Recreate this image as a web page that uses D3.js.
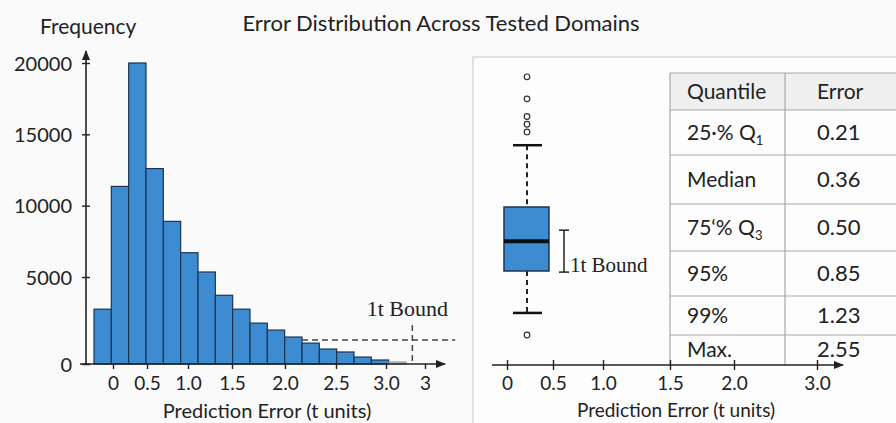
<!DOCTYPE html>
<html><head><meta charset="utf-8">
<style>
body{margin:0;background:#fafafa;}
#chart text{font-family:Lato,'Open Sans',sans-serif;fill:#222;}
#chart .serif{font-family:'Liberation Serif','DejaVu Serif',serif;}
</style>
<script src="https://cdn.jsdelivr.net/npm/d3@7/dist/d3.min.js"></script>
</head><body>
<svg id="chart" width="896" height="423"></svg>
<script>
// histogram data (counts per bin)
var binCounts=[3150,11350,20000,12600,8900,6700,5350,3950,3150,2350,1950,1550,1200,860,690,400,230,115];
var yTicks=[0,5000,10000,15000,20000];
var xTickValues=[0,0.5,1.0,1.5,2.0,2.5,3.0,3.4];
var xTickLabels=['0','0.5','1.0','1.5','2.0','2.5','3.0','3'];
var boundX=3.27, boundCount=1380;

// box plot
var boxQ1=0.21, boxMedian=0.345, boxQ3=0.50, whiskerLow=0.02, whiskerHigh=0.78;
var outliers=[1.09,0.99,0.91,0.875,0.84,-0.08];
var boundRange=[0.205,0.395];

// quantile table
var quantileNames=[['25·% Q','1'],['Median',''],['75‘% Q','3'],['95%',''],['99%',''],['Max.','']];
var quantileErrors=['0.21','0.36','0.50','0.85','1.23','2.55'];
var rightTickValues=[0,0.5,1.0,1.5,2.0,3.0];
var rightTickLabels=['0','0.5','1.0','1.5','2.0','3.0'];

var svg=d3.select('#chart');
var defs=svg.append('defs');
defs.append('marker').attr('id','arr').attr('viewBox','0 0 10 10')
  .attr('refX',9).attr('refY',5).attr('markerWidth',10).attr('markerHeight',10)
  .attr('markerUnits','userSpaceOnUse').attr('orient','auto')
  .append('path').attr('d','M0,1L10,5L0,9Z').attr('fill','#222');

svg.append('text').attr('x',441).attr('y',31).attr('text-anchor','middle')
   .style('font-size','22px').text('Error Distribution Across Tested Domains');

// ---------- histogram ----------
var base=364;
var yScale=d3.scaleLinear().domain([0,5000,20000]).range([base,277,63]);
var xBand=d3.scaleBand().domain(d3.range(binCounts.length)).range([94,406]).padding(0);
var xScale=d3.scaleLinear().domain(xTickValues).range([113,147,188,232,285,336,386,425]);
var last=binCounts.length-1;

svg.append('g').selectAll('rect').data(binCounts).enter().append('rect')
  .attr('x',(d,i)=>xBand(i)).attr('width',xBand.bandwidth())
  .attr('y',d=>yScale(d)).attr('height',d=>base-yScale(d))
  .attr('fill',(d,i)=>i==last?'#c3d3e0':'#3d8bd0')
  .attr('stroke',(d,i)=>i==last?'#8aa0b4':'#1c3553').attr('stroke-width',1.2);

svg.append('line').attr('x1',80).attr('x2',445).attr('y1',base).attr('y2',base)
   .attr('stroke','#222').attr('stroke-width',1.6).attr('marker-end','url(#arr)');
svg.append('line').attr('x1',86).attr('x2',86).attr('y1',base).attr('y2',51)
   .attr('stroke','#222').attr('stroke-width',1.6).attr('marker-end','url(#arr)');

var yAx=svg.append('g').attr('transform','translate(86,0)')
  .call(d3.axisLeft(yScale).tickValues(yTicks).tickSize(4).tickPadding(10).tickFormat(d3.format('d')));
yAx.select('.domain').remove();
yAx.selectAll('line').attr('x2',4).attr('x1',-4).attr('stroke','#222').attr('stroke-width',1.4);
yAx.selectAll('text').style('font-size','20px').attr('dy','0.35em');

var xAx=svg.append('g').attr('transform','translate(0,'+base+')')
  .call(d3.axisBottom(xScale).tickValues(xTickValues).tickSize(5).tickPadding(8)
  .tickFormat((d,i)=>xTickLabels[i]));
xAx.select('.domain').remove();
xAx.selectAll('line').attr('stroke','#222').attr('stroke-width',1.4);
xAx.selectAll('text').style('font-size','19px');

svg.append('text').attr('x',40).attr('y',34).style('font-size','21px').text('Frequency');
svg.append('text').attr('x',267).attr('y',418).attr('text-anchor','middle')
   .style('font-size','20px').text('Prediction Error (t units)');

// bound markers
svg.append('line').attr('x1',xBand(12)).attr('x2',xScale(3.71))
   .attr('y1',yScale(boundCount)).attr('y2',yScale(boundCount))
   .attr('stroke','#444').attr('stroke-width',1.5).attr('stroke-dasharray','6,4');
svg.append('line').attr('x1',xScale(boundX)).attr('x2',xScale(boundX))
   .attr('y1',325).attr('y2',base)
   .attr('stroke','#444').attr('stroke-width',1.5).attr('stroke-dasharray','6,4');
svg.append('text').attr('class','serif').attr('x',xScale(boundX)-5).attr('y',316)
   .attr('text-anchor','middle').style('font-size','22px').text('1t Bound');

// ---------- right panel ----------
svg.append('rect').attr('x',473).attr('y',57).attr('width',440).attr('height',400)
   .attr('fill','#fdfdfd').attr('stroke','#cfcfcf').attr('stroke-width',1.2);

var cx=527;
var yBox=d3.scaleLinear().domain([boxQ1,boxQ3]).range([271,207]);
var g=svg.append('g');
g.append('line').attr('x1',cx).attr('x2',cx).attr('y1',yBox(whiskerHigh)).attr('y2',yBox(boxQ3))
 .attr('stroke','#222').attr('stroke-width',2).attr('stroke-dasharray','5,4');
g.append('line').attr('x1',cx).attr('x2',cx).attr('y1',yBox(boxQ1)).attr('y2',yBox(whiskerLow))
 .attr('stroke','#222').attr('stroke-width',2).attr('stroke-dasharray','5,4');
[whiskerHigh,whiskerLow].forEach(v=>{
  g.append('line').attr('x1',cx-14).attr('x2',cx+15).attr('y1',yBox(v)).attr('y2',yBox(v))
   .attr('stroke','#111').attr('stroke-width',2.5);
});
g.append('rect').attr('x',cx-23).attr('width',45)
 .attr('y',yBox(boxQ3)).attr('height',yBox(boxQ1)-yBox(boxQ3))
 .attr('fill','#3d8bd0').attr('stroke','#1c3553').attr('stroke-width',1.5);
g.append('line').attr('x1',cx-23).attr('x2',cx+22).attr('y1',yBox(boxMedian)).attr('y2',yBox(boxMedian))
 .attr('stroke','#0a0f14').attr('stroke-width',4);
g.selectAll('circle').data(outliers).enter().append('circle')
 .attr('cx',cx).attr('cy',d=>yBox(d)).attr('r',2.8)
 .attr('fill','#fff').attr('stroke','#333').attr('stroke-width',1.2);

// 1t bound bracket
var bx=564;
g.append('line').attr('x1',bx).attr('x2',bx).attr('y1',yBox(boundRange[1])).attr('y2',yBox(boundRange[0]))
 .attr('stroke','#222').attr('stroke-width',1.5);
boundRange.forEach(v=>{
  g.append('line').attr('x1',bx-5).attr('x2',bx+5).attr('y1',yBox(v)).attr('y2',yBox(v))
   .attr('stroke','#222').attr('stroke-width',1.5);
});
g.append('text').attr('class','serif').attr('x',bx+6).attr('y',yBox(boundRange[0]))
 .style('font-size','21px').text('1t Bound');

// table
var rowEdges=[73,110,155,204,251,296,335,365];
var tx0=670, tx1=785, tx2=900;
var t=svg.append('g');
t.append('rect').attr('x',tx0).attr('y',rowEdges[0]).attr('width',tx2-tx0)
 .attr('height',rowEdges[1]-rowEdges[0]).attr('fill','#efefef');
rowEdges.slice(0,-1).forEach(y=>{
  t.append('line').attr('x1',tx0).attr('x2',tx2).attr('y1',y).attr('y2',y)
   .attr('stroke','#a8a8a8').attr('stroke-width',1.2);
});
[tx0,tx1].forEach(x=>{
  t.append('line').attr('x1',x).attr('x2',x).attr('y1',rowEdges[0]).attr('y2',rowEdges[rowEdges.length-1])
   .attr('stroke','#a8a8a8').attr('stroke-width',1.2);
});
var midY=i=>(rowEdges[i]+rowEdges[i+1])/2+7;
t.append('text').attr('x',687).attr('y',midY(0)).style('font-size','21px').text('Quantile');
t.append('text').attr('x',817).attr('y',midY(0)).style('font-size','21px').text('Error');
quantileNames.forEach((q,i)=>{
  var tt=t.append('text').attr('x',687).attr('y',midY(i+1)).style('font-size','21px').text(q[0]);
  if(q[1]) tt.append('tspan').attr('dy',5).style('font-size','13px').text(q[1]);
});
quantileErrors.forEach((v,i)=>{
  t.append('text').attr('x',817).attr('y',midY(i+1)).style('font-size','22px').text(v);
});

// right axis
var ry=365;
var rScale=d3.scaleLinear().domain(rightTickValues).range([507,553,603,670,734,817]);
svg.append('line').attr('x1',492).attr('x2',843).attr('y1',ry).attr('y2',ry)
   .attr('stroke','#222').attr('stroke-width',1.6).attr('marker-end','url(#arr)');
var rAx=svg.append('g').attr('transform','translate(0,'+ry+')')
  .call(d3.axisBottom(rScale).tickValues(rightTickValues).tickSize(5).tickPadding(7)
  .tickFormat((d,i)=>rightTickLabels[i]));
rAx.select('.domain').remove();
rAx.selectAll('line').attr('y1',-5).attr('stroke','#222').attr('stroke-width',1.4);
rAx.selectAll('text').style('font-size','19px');
svg.append('text').attr('x',676).attr('y',417).attr('text-anchor','middle')
   .style('font-size','19px').text('Prediction Error (t units)');
</script>
</body></html>
